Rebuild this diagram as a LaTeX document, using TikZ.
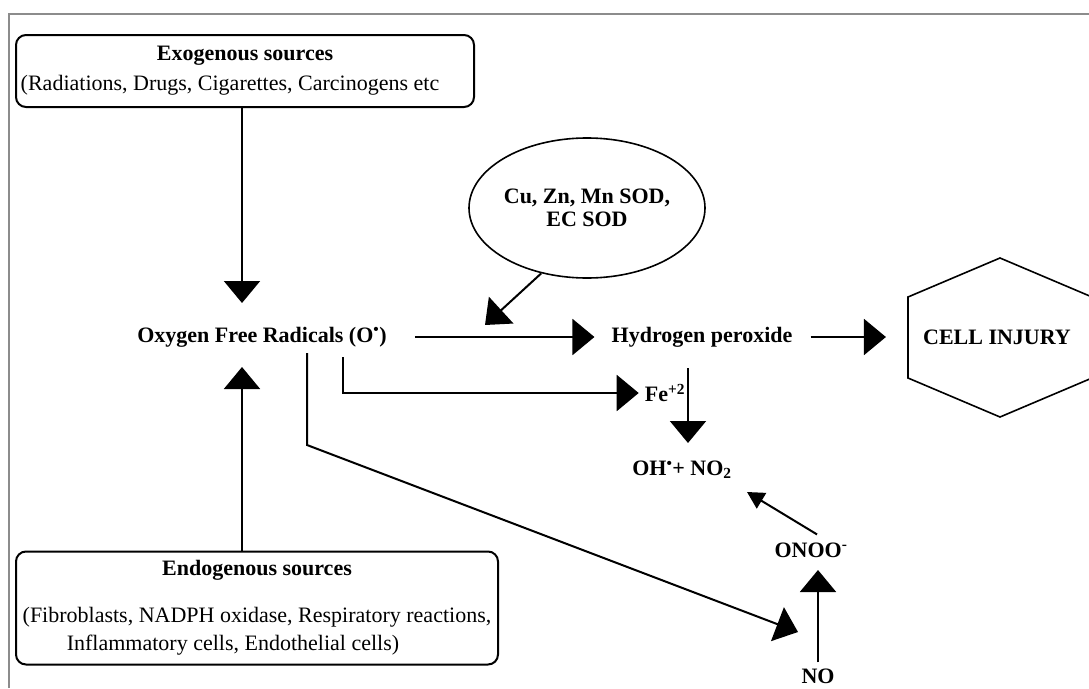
\documentclass[tikz,border=0pt]{standalone}
\usepackage{fontspec}
\setmainfont{Liberation Serif}
\usetikzlibrary{arrows.meta,shapes.geometric}
\newcommand{\basefnt}{\fontsize{22}{28}\selectfont}
\tikzset{
  arr/.style={line width=2pt, -{Triangle[length=22pt,width=36pt]}},
  sarr/.style={line width=2pt, -{Triangle[length=17pt,width=18pt]}},
  srcbox/.style={draw, line width=2pt, rounded corners=10pt, inner sep=0pt, align=center, font=\basefnt},
  lbl/.style={inner sep=0pt, font=\basefnt\bfseries},
  frame/.style={line width=2pt, draw=black!45},
}
\begin{document}
\begin{tikzpicture}[x=1pt,y=-1pt]
\useasboundingbox (0,0) rectangle (1089,688);
\draw[frame] (9,688) -- (9,14) -- (1089,14);

% source boxes
\node[srcbox, minimum width=458pt, minimum height=72pt] (exo) at (245,71)
  {\textbf{Exogenous sources}\\[2pt]\hspace*{-30pt}(Radiations, Drugs, Cigarettes, Carcinogens etc};
\node[srcbox, minimum width=482pt, minimum height=113pt] (endo) at (257,608)
  {\textbf{Endogenous sources}\\[19pt](Fibroblasts, NADPH oxidase, Respiratory reactions,\\\hspace*{-48pt}Inflammatory cells, Endothelial cells)};

% labels
\node[lbl] (ofr) at (262,337) {Oxygen Free Radicals (O\textsuperscript{•})};
\node[lbl] (hp) at (702,337) {Hydrogen peroxide};
\node[lbl] (ci) at (997,337) {CELL INJURY};
\node[lbl] (fe) at (665,393) {Fe\textsuperscript{+2}};
\node[lbl] (oh) at (682,470) {OH\textsuperscript{•}+ NO\textsubscript{2}};
\node[lbl] (onoo) at (811,550) {ONOO\textsuperscript{-}};
\node[lbl] (no) at (818,676) {NO};
\node[draw, ellipse, line width=1.6pt, minimum width=236pt, minimum height=140pt,
      align=center, inner sep=0pt, font=\basefnt\bfseries] (sod) at (587,208)
  {\raisebox{-6pt}{\shortstack{Cu, Zn, Mn SOD,\\[2pt]EC SOD}}};

% cell injury hexagon
\draw[line width=1.6pt] (1000,258) -- (908,297) -- (908,378) -- (1000,417)
  -- (1092,378) -- (1092,297) -- cycle;

% connector end points
\coordinate (t1) at (242,303);
\coordinate (t2) at (242,367);
\coordinate (sodTip) at (485,325);
\coordinate (feS) at (343,357);
\coordinate (lS) at (307,353);
\coordinate (lB) at (307,445);
\coordinate (lT) at (798,632);
\coordinate (hpD) at (688,368);
\coordinate (ohT) at (688,443);
\coordinate (ohR) at (747,492);
\coordinate (onooB) at (818,570);

% connectors
\draw[arr] (exo.south -| t1) -- (t1);
\draw[arr] (endo.north -| t2) -- (t2);
\draw[arr, shorten <=28pt, shorten >=17pt] (ofr.east) -- (hp.west);
\draw[arr, shorten <=18pt, shorten >=37pt] (hp.east) -- (ci.west);
\draw[arr] (sod.235) -- (sodTip);
\draw[arr] (feS) |- ([xshift=-6pt]fe.west);
\draw[arr] (lS) -- (lB) -- (lT);
\draw[arr] (hpD) -- (ohT);
\draw[sarr] ([xshift=6pt,yshift=8pt]onoo.north) -- (ohR);
\draw[arr] ([yshift=6pt]no.north) -- (onooB);
\end{tikzpicture}
\end{document}
